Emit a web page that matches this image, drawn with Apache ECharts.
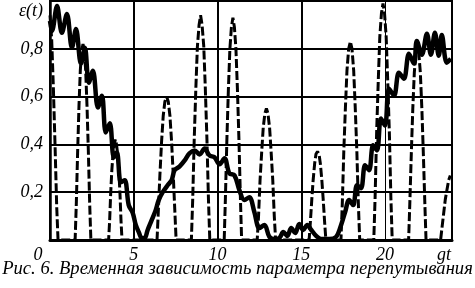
<!DOCTYPE html>
<html><head><meta charset="utf-8">
<script src="https://cdn.jsdelivr.net/npm/echarts@6/dist/echarts.min.js"></script>
<style>html,body{margin:0;padding:0;background:#fff}#c{width:475px;height:288px}</style>
</head><body><div id="c"></div>
<script>
const caption = 'Рис. 6. Временная зависимость параметра перепутывания';
const yName = 'ε(t)';
const xName = 'gt';
const xVerticalLines = [5, 10, 15, 20];
const xVerticalWidths = [2, 2, 2, 1];

const solidT = [0, 0.12, 0.42, 0.71, 1.01, 1.31, 1.55, 1.85, 2.08, 2.32, 2.56, 2.86, 3.10, 3.33, 3.57, 3.81, 3.99, 4.23, 4.46, 4.70, 4.94, 5.12, 5.30, 5.48, 5.65, 5.83, 6.07, 6.31, 6.49, 6.73, 7.02, 7.26, 7.44, 7.74, 8.04, 8.33, 8.63, 8.93, 9.23, 9.52, 9.82, 10.12, 10.42, 10.71, 11.01, 11.31, 11.61, 11.90, 12.20, 12.50, 12.80, 13.10, 13.39, 13.69, 13.93, 14.17, 14.40, 14.64, 14.88, 15.12, 15.36, 15.60, 15.89, 16.19, 16.67, 17.08, 17.38, 17.62, 17.86, 18.10, 18.33, 18.57, 18.81, 19.05, 19.29, 19.52, 19.76, 20.00, 20.24, 20.54, 20.83, 21.13, 21.43, 21.73, 21.90, 22.20, 22.50, 22.74, 22.98, 23.21, 23.39, 23.69, 23.93];
const solidV = [0.917, 0.875, 0.979, 0.867, 0.946, 0.804, 0.883, 0.738, 0.804, 0.658, 0.708, 0.554, 0.604, 0.45, 0.488, 0.346, 0.367, 0.242, 0.25, 0.146, 0.113, 0.063, 0.033, 0.008, 0.008, 0.042, 0.083, 0.125, 0.167, 0.2, 0.229, 0.25, 0.292, 0.308, 0.333, 0.363, 0.375, 0.358, 0.383, 0.354, 0.346, 0.317, 0.342, 0.279, 0.271, 0.208, 0.167, 0.179, 0.117, 0.05, 0.063, 0.013, 0.004, 0.008, 0.033, 0.017, 0.05, 0.029, 0.067, 0.042, 0.063, 0.042, 0.017, 0.004, 0.004, 0.013, 0.063, 0.117, 0.167, 0.146, 0.229, 0.217, 0.313, 0.292, 0.396, 0.375, 0.508, 0.479, 0.633, 0.604, 0.70, 0.675, 0.779, 0.738, 0.833, 0.775, 0.863, 0.775, 0.867, 0.771, 0.858, 0.742, 0.758];

const dashed = [
  [0,0.94],[0.1,0.84],[0.2,0.64],[0.3,0.40],[0.4,0.14],[0.48,0],
  [1.50,0],[1.57,0.15],[1.65,0.37],[1.73,0.56],[1.81,0.71],[1.89,0.79],[1.97,0.82],[2.05,0.79],[2.13,0.71],[2.21,0.56],[2.29,0.37],[2.37,0.15],[2.44,0],
  [3.50,0],[3.56,0.08],[3.62,0.19],[3.69,0.29],[3.76,0.36],[3.83,0.40],[3.90,0.42],[3.97,0.40],[4.04,0.36],[4.11,0.29],[4.18,0.19],[4.24,0.08],[4.30,0],
  [6.39,0],[6.46,0.11],[6.56,0.27],[6.66,0.41],[6.76,0.52],[6.86,0.58],[6.96,0.60],[7.06,0.58],[7.16,0.52],[7.26,0.41],[7.36,0.27],[7.46,0.11],[7.53,0],
  [8.44,0],[8.52,0.17],[8.61,0.42],[8.71,0.64],[8.80,0.81],[8.90,0.90],[8.99,0.94],[9.08,0.90],[9.18,0.81],[9.27,0.64],[9.37,0.42],[9.46,0.17],[9.54,0],
  [10.40,0],[10.47,0.17],[10.56,0.42],[10.65,0.63],[10.74,0.80],[10.83,0.89],[10.92,0.93],[11.01,0.89],[11.10,0.80],[11.19,0.63],[11.28,0.42],[11.37,0.17],[11.44,0],
  [12.37,0],[12.45,0.10],[12.54,0.25],[12.64,0.37],[12.73,0.47],[12.83,0.53],[12.92,0.55],[13.01,0.53],[13.11,0.47],[13.20,0.37],[13.30,0.25],[13.39,0.10],[13.47,0],
  [15.47,0],[15.54,0.07],[15.63,0.17],[15.71,0.25],[15.80,0.32],[15.88,0.36],[15.97,0.37],[16.06,0.36],[16.14,0.32],[16.23,0.25],[16.31,0.17],[16.40,0.07],[16.47,0],
  [17.37,0],[17.45,0.15],[17.54,0.37],[17.64,0.56],[17.73,0.71],[17.83,0.80],[17.93,0.83],[18.03,0.80],[18.13,0.71],[18.22,0.56],[18.32,0.37],[18.41,0.15],[18.49,0],
  [19.33,0],[19.41,0.18],[19.50,0.45],[19.60,0.67],[19.69,0.85],[19.79,0.95],[19.88,0.99],[19.97,0.95],[20.07,0.85],[20.16,0.67],[20.26,0.45],[20.35,0.18],[20.43,0],
  [21.41,0],[21.48,0.15],[21.57,0.36],[21.66,0.55],[21.75,0.70],[21.84,0.78],[21.93,0.81],[22.02,0.78],[22.11,0.70],[22.20,0.55],[22.29,0.36],[22.38,0.15],[22.45,0],
  [23.32,0],[23.40,0.05],[23.50,0.11],[23.60,0.17],[23.70,0.21],[23.80,0.25],[23.90,0.27]
];

const FONT = 'Liberation Serif';
const chart = echarts.init(document.getElementById('c'), null, {renderer: 'canvas'});
chart.setOption({
  animation: false,
  backgroundColor: '#fff',
  title: {
    text: caption, left: 'center', top: 255,
    textStyle: {fontFamily: FONT, fontStyle: 'italic', fontWeight: 'normal', fontSize: 18.6, color: '#000'}
  },
  grid: {left: 50, right: 23, top: 1, bottom: 48, show: true, borderColor: '#000', borderWidth: 2},
  xAxis: {
    type: 'value', min: 0, max: 24, interval: 5,
    axisLine: {show: true, lineStyle: {color: '#000', width: 3}},
    axisTick: {show: false},
    splitLine: {show: false},
    axisLabel: {
      margin: 6, color: '#000', fontFamily: FONT, fontStyle: 'italic', fontSize: 18,
      formatter: v => v === 0 ? '{z|0}' : (v === 24 ? '{g|' + xName + '}' : String(v)),
      rich: {
        z: {fontFamily: FONT, fontStyle: 'italic', fontSize: 18, color: '#000', padding: [0, 24, 0, 0]},
        g: {fontFamily: FONT, fontStyle: 'italic', fontSize: 18, color: '#000', padding: [0, 16, 0, 0]}
      }
    }
  },
  yAxis: {
    type: 'value', min: 0, max: 1, interval: 0.2,
    axisLine: {show: true, lineStyle: {color: '#000', width: 2.5}},
    axisTick: {show: false},
    splitLine: {show: true, lineStyle: {color: '#000', width: 2}},
    axisLabel: {
      margin: 7, color: '#000', fontFamily: FONT, fontStyle: 'italic', fontSize: 18,
      formatter: v => v === 0 ? '' : (Math.abs(v - 1) < 1e-9 ? '{e|' + yName + '}' : v.toFixed(1).replace('.', ',')),
      rich: {
        e: {fontFamily: FONT, fontStyle: 'italic', fontSize: 18, color: '#000', padding: [20, 0, 0, 0]}
      }
    }
  },
  series: [
    {
      type: 'line', data: [], z: 1, silent: true,
      markLine: {
        silent: true, symbol: 'none', label: {show: false},
        data: xVerticalLines.map((x, i) => ({xAxis: x, lineStyle: {color: '#000', type: 'solid', width: xVerticalWidths[i]}}))
      }
    },
    {
      type: 'line', data: dashed, z: 3, showSymbol: false, silent: true,
      lineStyle: {color: '#000', width: 3, type: [9, 3]}
    },
    {
      type: 'line', data: solidT.map((t, i) => [t, solidV[i]]), z: 4, showSymbol: false, silent: true,
      smooth: 0.35, lineStyle: {color: '#000', width: 4.5, join: 'round'}
    }
  ]
});
</script></body></html>
